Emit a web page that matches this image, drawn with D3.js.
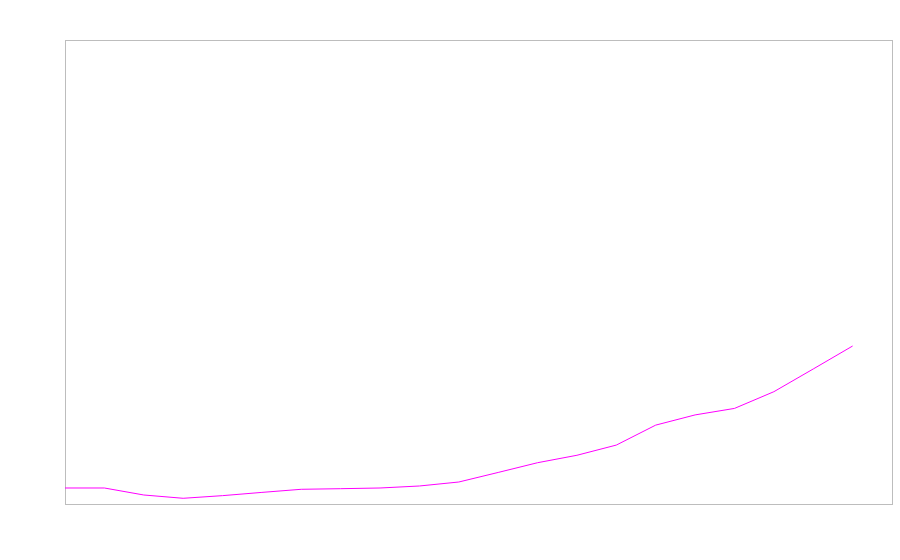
<!DOCTYPE html>
<html>
<head>
<meta charset="utf-8">
<script src="https://cdn.jsdelivr.net/npm/d3@7"></script>
<style>
  body { margin: 0; background: #fff; }
</style>
</head>
<body>
<div id="chart"></div>
<script>
// data
const steps = d3.range(21);
const values = [3.45, 3.45, 1.94, 1.23, 1.8, 2.5, 3.17, 3.3, 3.45, 3.88, 4.74,
    6.8, 8.9, 10.5, 12.7, 17.0, 19.2, 20.6, 24.2, 29.1, 34.05];

const margin = { top: 40, right: 8, bottom: 56, left: 65 },
    width = 900 - margin.left - margin.right,
    height = 560 - margin.top - margin.bottom;

const svg = d3.select("#chart")
    .append("svg")
    .attr("width", 900)
    .attr("height", 560)
    .append("g")
    .attr("transform", `translate(${margin.left},${margin.top})`);

const x = d3.scaleLinear()
    .domain([0, 21])
    .range([0, 827]);

const y = d3.scaleLinear()
    .domain([0, 100])
    .range([464, 0]);

// frame
svg.append("rect")
    .attr("x", 0.5)
    .attr("y", 0.5)
    .attr("width", 827)
    .attr("height", 464)
    .attr("fill", "none")
    .attr("stroke", "#bdbdbd")
    .attr("stroke-width", 1);

const line = d3.line()
    .x((d, i) => x(steps[i]))
    .y(d => y(d));

svg.append("path")
    .datum(values)
    .attr("d", line)
    .attr("fill", "none")
    .attr("stroke", "#ff00ff")
    .attr("stroke-width", 1);
</script>
</body>
</html>
